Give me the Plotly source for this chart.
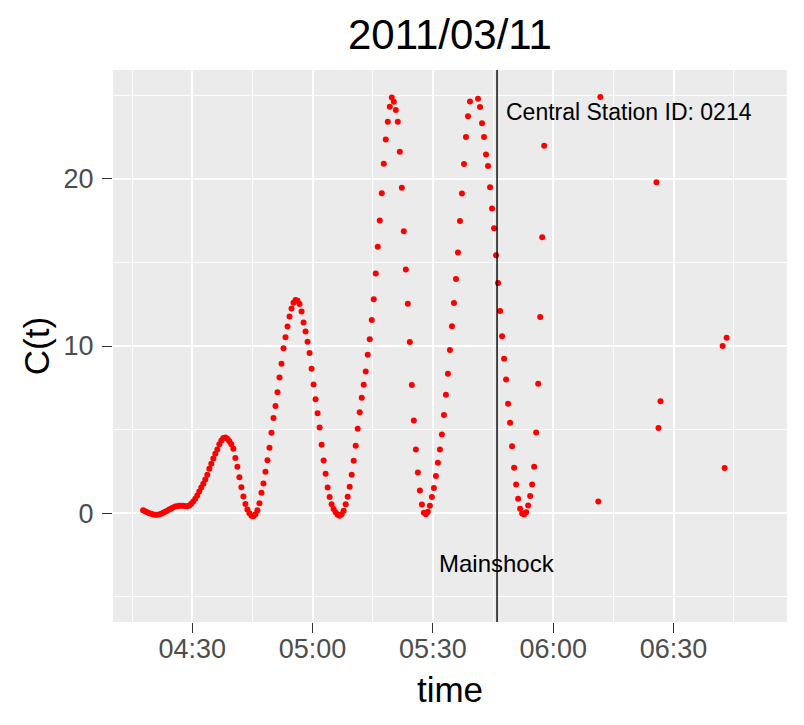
import pandas as pd
import plotly.graph_objects as go

DAY = "2011-03-11"
SAMPLE_STEP = "30s"

# Continuous 30-s segment (None = value outside the plotted range, not drawn)
seg1_start = "04:17:45"
seg1_values = [
    0.18, 0.12, 0.06, 0.00, -0.04, -0.08, -0.10, -0.10, -0.08, -0.04,
    0.02, 0.08, 0.14, 0.22, 0.28, 0.34, 0.40, 0.42, 0.44, 0.44,
    0.44, 0.42, 0.42, 0.46, 0.56, 0.70, 0.86, 1.06, 1.30, 1.54,
    1.76, 2.02, 2.30, 2.65, 2.95, 3.27, 3.55, 3.81, 4.13, 4.35,
    4.49, 4.53, 4.45, 4.30, 4.12, 3.85, 3.30, 2.78, 2.15, 1.55,
    1.00, 0.55, 0.22, 0.00, -0.15, -0.18, -0.06, 0.18, 0.60, 1.22,
    1.78, 2.48, 3.17, 3.91, 4.81, 5.69, 6.41, 7.23, 8.12, 8.94,
    9.86, 10.52, 11.16, 11.76, 12.24, 12.59, 12.75, 12.71, 12.51, 12.06,
    11.40, 10.86, 10.26, 9.58, 8.64, 7.70, 6.81, 5.97, 5.13, 4.09,
    3.15, 2.36, 1.54, 0.96, 0.54, 0.25, 0.05, -0.10, -0.15, -0.07,
    0.15, 0.53, 0.98, 1.58, 2.30, 3.13, 4.03, 5.05, 6.03, 6.91,
    7.68, 8.48, 9.48, 10.40, 11.56, 12.79, 14.33, 15.93, 17.50, 19.14,
    20.90, 22.36, 23.41, 24.31, 24.87, 24.61, 24.11, 23.41, 21.62, 19.46,
    16.87, 14.57, 12.53, 10.24, 7.66, 5.55, 3.81, 2.44, 1.36, 0.52,
    0.02, -0.06, 0.08, 0.44, 0.96, 1.50, 2.22, 3.01, 3.81, 4.71,
    5.87, 7.09, 8.34, 9.76, 11.18, 12.57, 14.01, 15.59, 17.47, 19.12,
    20.88, 22.50, 23.75, 24.63, None, None, None, 24.79, 24.29, 23.33,
    22.50, 21.46, 20.76, 19.50, 18.22, 17.05, 15.43, 13.77, 12.10, 10.58,
    9.24, 8.00, 6.55, 5.41, 4.01, 2.71, 1.72, 0.86, 0.26, -0.02,
    -0.08, 0.06, 0.46, 1.02, 1.72, 2.77, 4.83, 7.74, 11.74, 16.51,
    21.98,
]
seg2_start = "06:11:15"
seg2_values = [0.7, 24.9]
seg3_start = "06:25:45"
seg3_values = [19.8, 5.1, 6.7]
seg4_start = "06:42:15"
seg4_values = [10.0, 2.7, 10.5]

mainshock_time = "05:46:00"
mainshock_label = "Mainshock"
station_label = "Central Station ID: 0214"
title_text = "2011/03/11"

segments = [(seg1_start, seg1_values), (seg2_start, seg2_values),
            (seg3_start, seg3_values), (seg4_start, seg4_values)]
times, values = [], []
for start, vals in segments:
    rng = pd.date_range(f"{DAY} {start}", periods=len(vals), freq=SAMPLE_STEP)
    times += list(rng)
    values += vals

FONT = "Liberation Sans, Arial, Helvetica, sans-serif"

# the page body adds an 8 px offset, so the figure is 8 px smaller each way
W, H = 796, 717

fig = go.Figure()
fig.add_trace(go.Scatter(
    x=times, y=values, mode="markers",
    marker=dict(color="#FF0000", size=6, line=dict(width=0)),
    showlegend=False, hoverinfo="x+y",
))

fig.add_shape(type="line", xref="x", yref="paper",
              x0=f"{DAY} {mainshock_time}", x1=f"{DAY} {mainshock_time}",
              y0=0, y1=1, line=dict(color="black", width=1.4), layer="above")

fig.add_annotation(x=f"{DAY} {mainshock_time}", y=-3, text=mainshock_label,
                   showarrow=False, xanchor="center", yanchor="middle",
                   font=dict(family=FONT, size=24, color="black"))
fig.add_annotation(x=f"{DAY} 05:47:50", y=24, text=station_label,
                   showarrow=False, xanchor="left", yanchor="middle",
                   font=dict(family=FONT, size=23, color="black"))

fig.update_layout(
    width=W, height=H,
    margin=dict(l=105, r=17, t=62, b=103, autoexpand=False),
    paper_bgcolor="white", plot_bgcolor="#EBEBEB",
    font=dict(family=FONT, color="black"),
    title=dict(text=title_text, x=0.5, xref="paper", xanchor="center",
               y=1 - 26 / H, yref="container", yanchor="middle",
               font=dict(family=FONT, size=42, color="black")),
)

fig.update_xaxes(
    type="date", automargin=False,
    range=[f"{DAY} 04:10:14", f"{DAY} 06:58:18"],
    tick0=f"{DAY} 04:30", dtick=30 * 60 * 1000, tickformat="%H:%M",
    showgrid=True, gridcolor="white", gridwidth=1.6,
    minor=dict(showgrid=True, gridcolor="white", gridwidth=0.8,
               tick0=f"{DAY} 04:15", dtick=30 * 60 * 1000, ticks=""),
    ticks="outside", ticklen=10, tickwidth=1.4, tickcolor="#333333",
    ticklabelstandoff=-7,
    tickfont=dict(family=FONT, size=27, color="#4D4D4D"),
    showline=False, zeroline=False,
    title=dict(text="time", font=dict(family=FONT, size=35, color="black"),
               standoff=14),
)
fig.update_yaxes(
    automargin=False,
    range=[-6.51, 26.51],
    tick0=0, dtick=10,
    showgrid=True, gridcolor="white", gridwidth=1.6,
    minor=dict(showgrid=True, gridcolor="white", gridwidth=0.8,
               tick0=-5, dtick=10, ticks=""),
    ticks="outside", ticklen=10, tickwidth=1.4, tickcolor="#333333",
    ticklabelstandoff=3,
    tickfont=dict(family=FONT, size=27, color="#4D4D4D"),
    showline=False, zeroline=False,
    title=dict(text="C(t)", font=dict(family=FONT, size=35, color="black"),
               standoff=3),
)

fig.write_html("out.html")
